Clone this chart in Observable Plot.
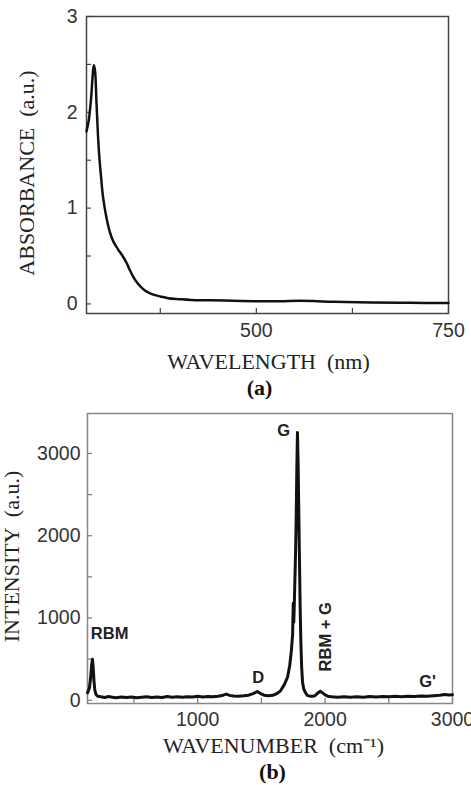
<!DOCTYPE html>
<html>
<head>
<meta charset="utf-8">
<script src="https://cdn.jsdelivr.net/npm/d3@7"></script>
<script src="https://cdn.jsdelivr.net/npm/@observablehq/plot@0.6"></script>
<style>
  html, body { margin: 0; padding: 0; background: #fff; }
  #wrap { position: relative; width: 471px; height: 785px; overflow: hidden; background: #fff; }
  #panelA { position: absolute; left: 0; top: 0; }
  #panelB { position: absolute; left: 0; top: 400px; }
</style>
</head>
<body>
<div id="wrap"><div id="panelA"></div><div id="panelB"></div></div>
<script>
// ---------- Panel (a): UV-Vis absorbance ----------
const absWavelength = [279, 282, 285, 287, 288.5, 290, 292, 294, 296, 298, 300, 302.5, 305, 309, 314, 320, 326, 331, 335, 340, 346, 352, 358, 365, 375, 385, 400, 415, 440, 470, 500, 530, 555, 575, 600, 650, 700, 750];
const absValue      = [1.80, 1.92, 2.15, 2.38, 2.49, 2.44, 2.10, 1.75, 1.50, 1.32, 1.15, 1.01, 0.90, 0.76, 0.65, 0.57, 0.50, 0.43, 0.36, 0.28, 0.21, 0.16, 0.125, 0.10, 0.078, 0.06, 0.05, 0.042, 0.038, 0.033, 0.028, 0.027, 0.033, 0.03, 0.022, 0.015, 0.011, 0.01];
const absXTickLabels = [500, 750];
const absXTicks = [375, 500, 625, 750];
const absYTickLabels = [0, 1, 2, 3];
const absYTicks = [0, 0.5, 1, 1.5, 2, 2.5, 3];
const absXTitle = "WAVELENGTH  (nm)";
const absYTitle = "ABSORBANCE  (a.u.)";
const absPanelLabel = "(a)";

// ---------- Panel (b): Raman ----------
const ramanShift = [135, 150, 160, 167, 174, 180, 186, 193, 202, 215, 240, 270, 300, 330, 360, 400, 440, 480, 520, 560, 600, 640, 680, 720, 760, 800, 840, 880, 920, 960, 1000, 1040, 1080, 1120, 1160, 1200, 1225, 1250, 1280, 1320, 1360, 1400, 1440, 1468, 1490, 1520, 1555, 1590, 1620, 1650, 1680, 1705, 1722, 1735, 1745, 1750, 1754, 1758, 1766, 1772, 1778, 1783, 1788, 1793, 1798, 1804, 1810, 1816, 1823, 1832, 1845, 1860, 1880, 1900, 1920, 1940, 1962, 1980, 2000, 2020, 2050, 2100, 2150, 2200, 2250, 2300, 2350, 2400, 2450, 2500, 2550, 2600, 2650, 2700, 2750, 2800, 2850, 2900, 2940, 2970, 3000];
const ramanIntensity = [90, 150, 280, 420, 500, 390, 230, 120, 70, 50, 42, 35, 45, 38, 30, 40, 33, 40, 30, 38, 42, 35, 40, 34, 45, 38, 42, 36, 44, 40, 48, 40, 45, 42, 50, 62, 75, 60, 52, 50, 55, 62, 85, 107, 85, 62, 55, 60, 80, 115, 190, 280, 420, 600, 800, 1180, 950, 1150, 1650, 2100, 2800, 3255, 2900, 2350, 1800, 1150, 700, 400, 220, 140, 95, 60, 50, 48, 55, 85, 110, 90, 65, 50, 42, 38, 44, 36, 42, 38, 45, 40, 46, 42, 48, 44, 50, 46, 52, 48, 55, 60, 70, 65, 68];
const ramanXTickLabels = [1000, 2000, 3000];
const ramanXTicks = [500, 1000, 1500, 2000, 2500, 3000];
const ramanYTickLabels = [0, 1000, 2000, 3000];
const ramanYTicks = [0, 500, 1000, 1500, 2000, 2500, 3000];
const ramanXTitle = "WAVENUMBER  (cm\u207B\u00B9)";
const ramanYTitle = "INTENSITY  (a.u.)";
const ramanPanelLabel = "(b)";

// peak annotations (data coordinates)
const leftPeakName = ["RBM"];
const leftPeakShift = [161];
const leftPeakLevel = [744];
const peakNames = ["D", "G", "G'"];
const peakShift = [1475, 1675, 2805];
const peakLevel = [216, 3215, 164];
const rotatedPeakName = ["RBM + G"];
const rotatedPeakShift = [2049];
const rotatedPeakLevel = [772];

const absData = absWavelength.map((w, i) => ({w, a: absValue[i]}));
const ramanData = ramanShift.map((s, i) => ({s, v: ramanIntensity[i]}));
const leftPeaks = leftPeakName.map((t, i) => ({t, x: leftPeakShift[i], y: leftPeakLevel[i]}));
const peaks = peakNames.map((t, i) => ({t, x: peakShift[i], y: peakLevel[i]}));
const rotPeaks = rotatedPeakName.map((t, i) => ({t, x: rotatedPeakShift[i], y: rotatedPeakLevel[i]}));

const sans = "'Liberation Sans', Arial, Helvetica, sans-serif";
const serif = "'Liberation Serif', 'Times New Roman', serif";
const fmt = d => String(d);

// panel A geometry
const A = {w: 471, h: 400, t: 16, l: 86, r: 23, b: 87};
const Aiw = A.w - A.l - A.r, Aih = A.h - A.t - A.b;

const chartA = Plot.plot({
  width: A.w, height: A.h,
  marginTop: A.t, marginLeft: A.l, marginRight: A.r, marginBottom: A.b,
  x: {domain: [279, 750]},
  y: {domain: [-0.1, 3]},
  style: {background: "white", fontFamily: sans, overflow: "visible"},
  marks: [
    Plot.tickX(absXTicks, {x: d => d, insetTop: Aih - 5, stroke: "#444", strokeWidth: 1.2}),
    Plot.tickY(absYTicks, {y: d => d, insetRight: Aiw - 5, stroke: "#444", strokeWidth: 1.2}),
    Plot.axisX({ticks: absXTickLabels, tickSize: 0, tickPadding: 10, tickFormat: fmt, fontSize: 19.5, fill: "#333", label: null}),
    Plot.axisY({ticks: absYTickLabels, tickSize: 0, tickPadding: 9, tickFormat: fmt, fontSize: 19.5, fill: "#333", label: null}),
    Plot.frame({stroke: "#444", strokeWidth: 1.5}),
    Plot.line(absData, {x: "w", y: "a", stroke: "#111", strokeWidth: 2.5, curve: "catmull-rom"}),
    Plot.text([absXTitle], {frameAnchor: "bottom", textAnchor: "middle", dx: 1, dy: 55.5, lineAnchor: "bottom", fontFamily: serif, fontSize: 22, fill: "#222"}),
    Plot.text([absPanelLabel], {frameAnchor: "bottom", textAnchor: "middle", dx: -8, dy: 81, lineAnchor: "bottom", fontFamily: serif, fontSize: 22, fontWeight: "bold", fill: "#111"}),
    Plot.text([absYTitle], {frameAnchor: "left", textAnchor: "middle", rotate: -90, dx: -53, dy: 8, lineAnchor: "bottom", fontFamily: serif, fontSize: 22, fill: "#222"})
  ]
});
document.getElementById("panelA").appendChild(chartA);

// panel B geometry
const B = {w: 471, h: 385, t: 13, l: 87, r: 19, b: 82};
const Biw = B.w - B.l - B.r, Bih = B.h - B.t - B.b;

const chartB = Plot.plot({
  width: B.w, height: B.h,
  marginTop: B.t, marginLeft: B.l, marginRight: B.r, marginBottom: B.b,
  x: {domain: [135, 3000]},
  y: {domain: [-39, 3486]},
  style: {background: "white", fontFamily: sans, overflow: "visible"},
  marks: [
    Plot.tickX(ramanXTicks, {x: d => d, insetTop: Bih - 5, stroke: "#777", strokeWidth: 1.2}),
    Plot.tickY(ramanYTicks, {y: d => d, insetRight: Biw - 5, stroke: "#777", strokeWidth: 1.2}),
    Plot.axisX({ticks: ramanXTickLabels, tickSize: 0, tickPadding: 9, tickFormat: fmt, fontSize: 19.5, fill: "#333", label: null}),
    Plot.axisY({ticks: ramanYTickLabels, tickSize: 0, tickPadding: 7, tickFormat: fmt, fontSize: 19.5, fill: "#333", label: null}),
    Plot.frame({stroke: "#888", strokeWidth: 1.5}),
    Plot.line(ramanData, {x: "s", y: "v", stroke: "#111", strokeWidth: 3, strokeLinejoin: "round"}),
    Plot.text(leftPeaks, {x: "x", y: "y", text: "t", textAnchor: "start", lineAnchor: "bottom", fontSize: 16.5, fontWeight: "bold", fill: "#222"}),
    Plot.text(peaks, {x: "x", y: "y", text: "t", textAnchor: "middle", lineAnchor: "bottom", fontSize: 16.5, fontWeight: "bold", fill: "#222"}),
    Plot.text(rotPeaks, {x: "x", y: "y", text: "t", rotate: -90, textAnchor: "middle", lineAnchor: "bottom", fontSize: 16.5, fontWeight: "bold", fill: "#222"}),
    Plot.text([ramanXTitle], {frameAnchor: "bottom", textAnchor: "middle", dx: 3.5, dy: 49, lineAnchor: "bottom", fontFamily: serif, fontSize: 22, fill: "#222"}),
    Plot.text([ramanPanelLabel], {frameAnchor: "bottom", textAnchor: "middle", dx: 2.5, dy: 75, lineAnchor: "bottom", fontFamily: serif, fontSize: 22, fontWeight: "bold", fill: "#111"}),
    Plot.text([ramanYTitle], {frameAnchor: "left", textAnchor: "middle", rotate: -90, dx: -69, dy: -2, lineAnchor: "bottom", fontFamily: serif, fontSize: 22, fill: "#222"})
  ]
});
document.getElementById("panelB").appendChild(chartB);
</script>
</body>
</html>
